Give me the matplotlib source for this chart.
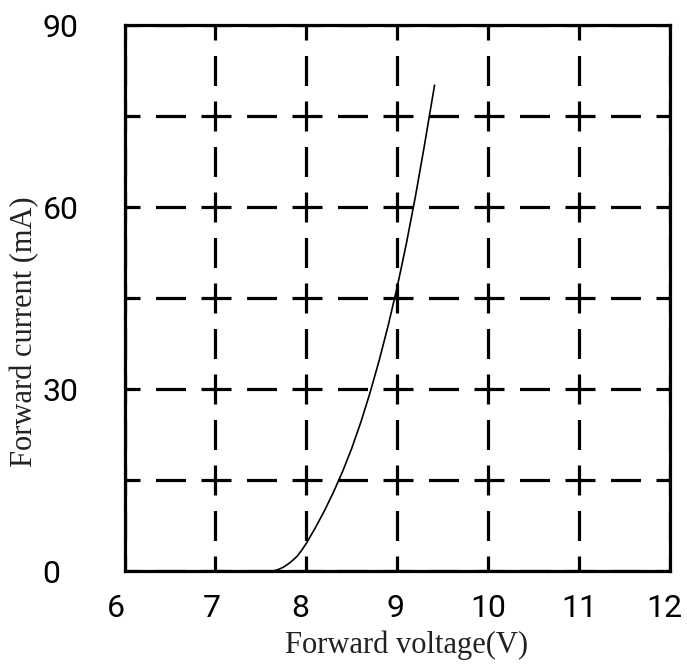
import matplotlib
matplotlib.use('Agg')
import matplotlib.pyplot as plt
from matplotlib.font_manager import FontProperties
from matplotlib.transforms import ScaledTranslation

# Forward voltage / current curve
voltage = [6.0, 7.6, 7.65, 7.7, 7.75, 7.8, 7.85, 7.9, 7.95, 8.0, 8.1, 8.2,
           8.3, 8.4, 8.5, 8.6, 8.7, 8.8, 8.9, 9.0, 9.1, 9.2, 9.3, 9.41]
current = [0, 0, 0.1, 0.35, 0.7, 1.2, 1.8, 2.5, 3.5, 4.6, 7.2, 10.0,
           13.1, 16.5, 20.3, 24.6, 29.4, 34.7, 40.5, 46.9, 54.0, 61.8, 70.3, 80.1]

xticks = [6, 7, 8, 9, 10, 11, 12]
yticks = [0, 15, 30, 45, 60, 75, 90]
ytick_labels = ['0', '', '30', '', '60', '', '90']

plt.rcParams['lines.scale_dashes'] = False

W, H, DPI = 687, 669, 100
fig = plt.figure(figsize=(W / DPI, H / DPI), dpi=DPI)
left, right, top, bottom = 124.5, 670, 25.3, 571.3
ax = fig.add_axes([left / W, 1 - bottom / H, (right - left) / W, (bottom - top) / H])

ax.plot(voltage, current, color='black', lw=1.2, zorder=3)

ax.set_xlim(6, 12)
ax.set_ylim(0, 90)
ax.set_xticks(xticks)
ax.set_yticks(yticks)
ax.set_yticklabels(ytick_labels)

# dashed grid: two dashes per cell, a dash centred on every crossing
pt = 72 / DPI
on, off = 30 * pt, 15.5 * pt
ax.grid(True, color='black', lw=2.3, linestyle=(on / 2, (on, off)))
ax.set_axisbelow(False)

for s in ax.spines.values():
    s.set_linewidth(2.3)
    s.set_zorder(4)

tick_font = FontProperties(family='Roboto', size=23)
ax.tick_params(length=0, labelcolor='black')
ax.tick_params(axis='x', pad=16)
ax.tick_params(axis='y', pad=59)
# the x labels in the original sit a little left of their grid lines
nudge_px = [-9, -4, -6, -2, 0, 0, -6]
for lab, dx in zip(ax.get_xticklabels(), nudge_px):
    lab.set_fontproperties(tick_font)
    lab.set_transform(lab.get_transform() + ScaledTranslation(dx / DPI, 0, fig.dpi_scale_trans))
for lab in ax.get_yticklabels():
    lab.set_fontproperties(tick_font)
    lab.set_ha('left')

label_font = dict(family='Liberation Serif', size=22, color='#222222')
ax.set_xlabel('Forward voltage(V)', **label_font)
ax.xaxis.set_label_coords((407 - left) / (right - left), -(645 - bottom) / (bottom - top))
ax.set_ylabel('Forward current (mA)', **label_font)
ax.yaxis.set_label_coords(-(left - 25) / (right - left), (bottom - 332) / (bottom - top))
ax.xaxis.label.set_va('center')
ax.yaxis.label.set_va('center')

fig.savefig('out.png', dpi=DPI)
